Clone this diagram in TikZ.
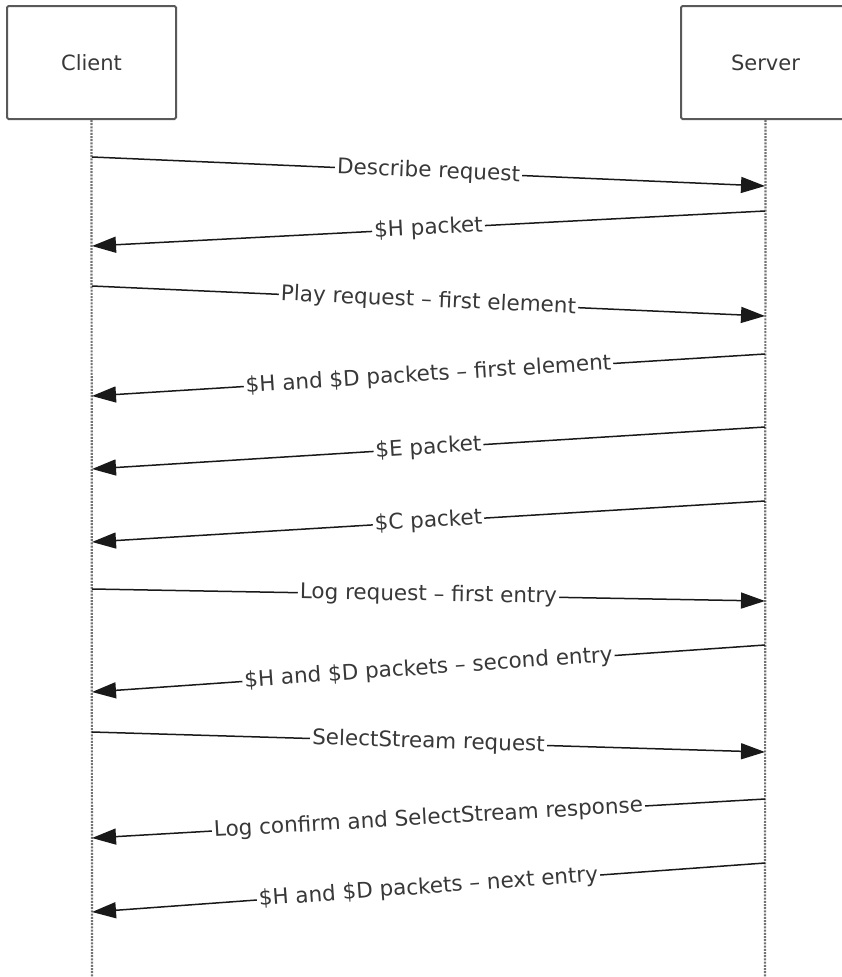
\documentclass[tikz,border=0pt]{standalone}
\usepackage{fontspec}
\setmainfont{DejaVu Sans}
\usepackage{tikz}
\usetikzlibrary{positioning, arrows.meta}
\tikzset{
    lifebox/.style={
        draw=black!65, line width=2pt, rounded corners=1.5pt, inner sep=0pt,
        minimum width=169pt, minimum height=113pt, text=black!78,
        font=\fontsize{21}{25}\selectfont
    },
    lifeline/.style={draw=black!55, line width=2.2pt, dash pattern=on 2pt off 1.2pt},
    message/.style={draw=black!90, line width=1.5pt, -{Triangle[length=24pt, width=16pt]}},
    msglabel/.style={sloped, midway, fill=white, inner sep=2pt, text=black!78}
}

\begin{document}
\begin{tikzpicture}[x=1pt, y=-1pt, every node/.style={font=\fontsize{21.5}{25}\selectfont}]
    \useasboundingbox (0,0) rectangle (841,977);
    \node[lifebox] (client) at (91.5,62.5) {Client};
    \node[lifebox] (server) at (765.5,62.5) {Server};
    \coordinate (cend) at (92,977);
    \coordinate (send) at (765,977);
    \draw[lifeline] (client.south) -- (cend);
    \draw[lifeline] (server.south) -- (send);

    % message ends on the lifelines
    \coordinate (c1) at (92,157);  \coordinate (s1) at (765,186);
    \coordinate (s2) at (765,211); \coordinate (c2) at (92,246);
    \coordinate (c3) at (92,286);  \coordinate (s3) at (765,316);
    \coordinate (s4) at (765,354); \coordinate (c4) at (92,396);
    \coordinate (s5) at (765,427); \coordinate (c5) at (92,469);
    \coordinate (s6) at (765,501); \coordinate (c6) at (92,542);
    \coordinate (c7) at (92,589);  \coordinate (s7) at (765,601);
    \coordinate (s8) at (765,645); \coordinate (c8) at (92,692);
    \coordinate (c9) at (92,732);  \coordinate (s9) at (765,752);
    \coordinate (s10) at (765,799); \coordinate (c10) at (92,838);
    \coordinate (s11) at (765,863); \coordinate (c11) at (92,912);

    \draw[message] (c1) -- node[msglabel] {Describe request} (s1);
    \draw[message] (s2) -- node[msglabel] {\$H packet} (c2);
    \draw[message] (c3) -- node[msglabel] {Play request -- first element} (s3);
    \draw[message] (s4) -- node[msglabel] {\$H and \$D packets -- first element} (c4);
    \draw[message] (s5) -- node[msglabel] {\$E packet} (c5);
    \draw[message] (s6) -- node[msglabel] {\$C packet} (c6);
    \draw[message] (c7) -- node[msglabel] {Log request -- first entry} (s7);
    \draw[message] (s8) -- node[msglabel] {\$H and \$D packets -- second entry} (c8);
    \draw[message] (c9) -- node[msglabel] {SelectStream request} (s9);
    \draw[message] (s10) -- node[msglabel] {Log confirm and SelectStream response} (c10);
    \draw[message] (s11) -- node[msglabel] {\$H and \$D packets -- next entry} (c11);
\end{tikzpicture}
\end{document}
